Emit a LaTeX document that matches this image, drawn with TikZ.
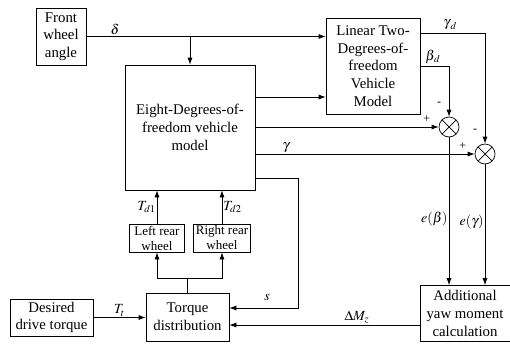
\documentclass[tikz,border=0pt]{standalone}
\usepackage{amsmath}
\usepackage{mathptmx}
\usepackage{fontspec}
\setmainfont{Liberation Serif}
\usepackage{tikz}
\usetikzlibrary{arrows.meta,calc}
\tikzset{
  every picture/.style={line join=miter, >={Latex[length=7pt,width=5pt]}},
  thin/.style={line width=0.7pt},
  block/.style={draw, thin, align=center, inner sep=1pt, font=\fontsize{14.8}{17.7}\selectfont},
  wheelbox/.style={block, font=\fontsize{13}{15}\selectfont},
  sumnode/.style={draw, thin, circle, minimum size=20pt, inner sep=0pt,
    path picture={\draw[thin] (path picture bounding box.north west)--(path picture bounding box.south east)
      (path picture bounding box.north east)--(path picture bounding box.south west);}},
  lab/.style={inner sep=1pt, font=\fontsize{14}{16}\selectfont},
  sign/.style={inner sep=0pt, font=\fontsize{12}{14}\selectfont},
}

\begin{document}
\begin{tikzpicture}[x=1pt,y=-1pt,thin]
\useasboundingbox (0,0) rectangle (510,343);
% blocks
\node[block, minimum width=50pt, minimum height=57pt] (fwa) at (61,36.5) {Front\\wheel\\angle};
\node[block, minimum width=130pt, minimum height=125pt] (dof8) at (190,127.5) {Eight-Degrees-of-\\freedom vehicle\\model};
\node[block, minimum width=94pt, minimum height=96pt] (lin) at (373,66) {Linear Two-\\Degrees-of-\\freedom\\Vehicle\\Model};
\node[sumnode] (sum1) at (449,127) {};
\node[sumnode] (sum2) at (485,154) {};
\node[wheelbox, minimum width=55pt, minimum height=28pt] (lrw) at (157,238) {Left rear\\wheel};
\node[wheelbox, minimum width=57pt, minimum height=28pt] (rrw) at (222,238) {Right rear\\wheel};
\node[block, minimum width=83pt, minimum height=48pt] (td) at (187.5,317) {Torque\\distribution};
\node[block, minimum width=83pt, minimum height=37pt] (ddt) at (51.5,317.5) {Desired\\drive torque};
\node[block, minimum width=90pt, minimum height=56pt] (aym) at (465,313.5) {Additional\\yaw moment\\calculation};

% steering input
\draw[->] (fwa.east) -- (lin.west |- fwa.east) node[lab, pos=0.12, above] {$\delta$};
\draw[->] (fwa.east -| dof8.north) -- (dof8.north);
% vehicle model outputs
\draw[->] ([yshift=30.5pt]dof8.east) -- ([yshift=30.5pt]dof8.east -| lin.west);
\draw[->] (dof8.east |- sum1) -- (sum1.west);
\draw[->] (dof8.east |- sum2) -- (sum2.west) node[lab, pos=0.14, above] {$\gamma$};
\draw[->] ([yshift=-50.5pt]dof8.east) -| (298,308) coordinate (sc) -- (sc -| td.east);
\node[lab] (slab) at (267,297) {$s$};
% reference model outputs
\draw[->] ([yshift=33pt]lin.east) -| (sum2.north);
\node[lab] (gdlab) at (450,25) {$\gamma_{\kern1.5pt d}$};
\draw[->] (lin.east) -| (sum1.north);
\node[lab] (bdlab) at (433,57) {$\beta_{\kern1pt d}$};
\foreach \s in {sum1,sum2}{
  \node[sign] at ([xshift=-10pt,yshift=13pt]\s.north) {-};
  \node[sign] at ([xshift=-12pt,yshift=8pt]\s.west) {+};
}
% errors
\draw[->] (sum1.south) -- (sum1 |- aym.north) node[lab, pos=0.55, left] {$e(\beta)$};
\draw[->] (sum2.south) -- (sum2 |- aym.north) node[lab, pos=0.48, left] {$e(\gamma)$};
\draw[->] ([yshift=-11.5pt]aym.west) -- ([yshift=-11.5pt]aym.west -| td.east) node[lab, pos=0.33, above] {$\Delta M_z$};
% torque path
\draw[->] (ddt.east) -- (td.west |- ddt.east) node[lab, midway, above] {$T_t$};
\draw (td.north) -- ++(0,-14) coordinate (split);
\draw[->] (split) -| (lrw.south);
\draw[->] (split) -| (rrw.south);
\draw[->] (lrw.north) -- (lrw |- dof8.south) node[lab, midway, left] {$T_{d1}$};
\draw[->] (rrw.north) -- (rrw |- dof8.south) node[lab, midway, right] {$T_{d2}$};
\end{tikzpicture}
\end{document}
